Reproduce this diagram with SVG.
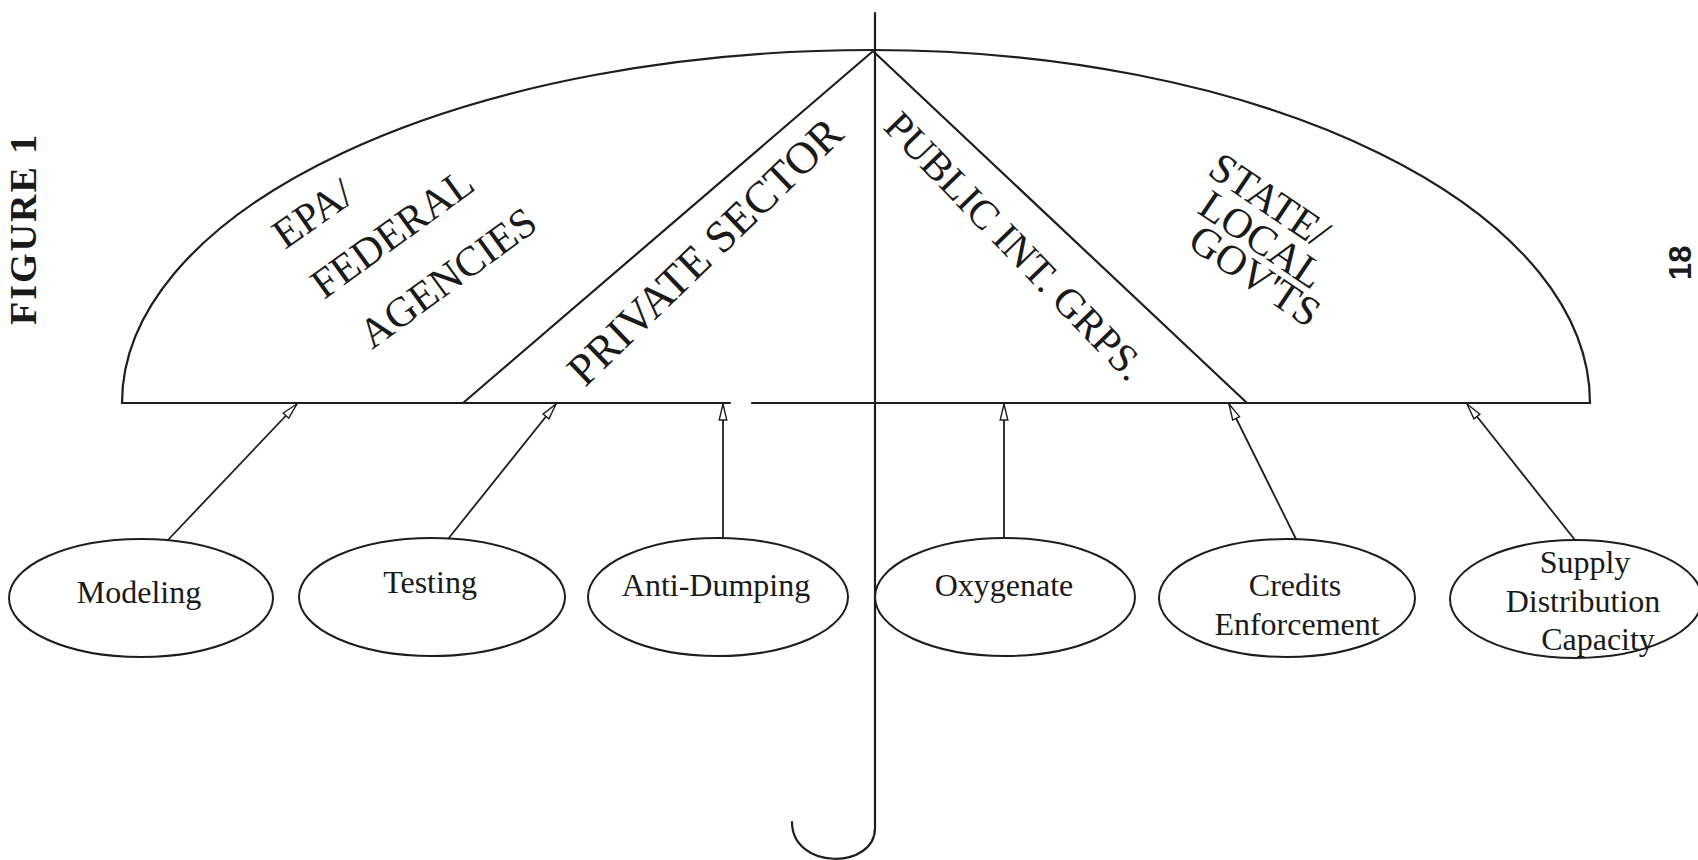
<svg xmlns="http://www.w3.org/2000/svg" width="1698" height="860" viewBox="0 0 1698 860">
<style>
.ln{fill:none;stroke:#1e1e1e;stroke-width:2.2;stroke-linecap:round}
.el{fill:none;stroke:#1e1e1e;stroke-width:2}
.lbl{font-family:"Liberation Serif",serif;font-size:32px;fill:#1a1a1a;text-anchor:middle}
.big{font-family:"Liberation Serif",serif;font-size:42px;fill:#1a1a1a}
.ar{fill:none;stroke:#1e1e1e;stroke-width:1.8}
</style>
<defs>
<marker id="ah" markerUnits="userSpaceOnUse" markerWidth="20" markerHeight="12" viewBox="-1 -6 18 12" refX="16" refY="0" orient="auto">
<path d="M0,-3.8 L16,0 L0,3.8 Z" fill="#fff" stroke="#1e1e1e" stroke-width="1.4"/>
</marker>
</defs>
<rect width="1698" height="860" fill="#fff"/>
<g id="umbrella">
<path class="ln" d="M122,403 A750,353 0 0 1 872,50"/>
<path class="ln" d="M872,50 A718,353 0 0 1 1590,403"/>
<path class="ln" d="M122,403 H730 M752,403 H1590"/>
<path class="ln" d="M872,52 L463,403"/>
<path class="ln" d="M874,52 L1247,403"/>
<path class="ln" d="M875,13 V828 C875,870 792,870 792,822"/>
</g>
<g id="sector-epa">
<text class="big" transform="translate(285,250) rotate(-35)">EPA/</text>
<text class="big" transform="translate(324,300) rotate(-36)">FEDERAL</text>
<text class="big" transform="translate(372,350) rotate(-36)">AGENCIES</text>
</g>
<g id="sector-private">
<text class="big" style="font-size:45px" transform="translate(585,388) rotate(-44)">PRIVATE SECTOR</text>
</g>
<g id="sector-public">
<text class="big" style="font-size:41px" transform="translate(882,128) rotate(46)">PUBLIC INT. GRPS.</text>
</g>
<g id="sector-state">
<text class="big" transform="translate(1206,174) rotate(34)">STATE/</text>
<text class="big" transform="translate(1196,212) rotate(34)">LOCAL</text>
<text class="big" transform="translate(1186,246) rotate(34)">GOV'TS</text>
</g>
<g id="connectors">
<path class="ar" marker-end="url(#ah)" d="M167,541 L297,404"/>
<path class="ar" marker-end="url(#ah)" d="M448,539 L556,404"/>
<path class="ar" marker-end="url(#ah)" d="M723,538 L723,404"/>
<path class="ar" marker-end="url(#ah)" d="M1004,538 L1004,404"/>
<path class="ar" marker-end="url(#ah)" d="M1296,539 L1229,404"/>
<path class="ar" marker-end="url(#ah)" d="M1575,540 L1467,404"/>
</g>
<g id="node-modeling">
<ellipse class="el" cx="141" cy="598" rx="132" ry="59"/>
<text class="lbl" x="139" y="603">Modeling</text>
</g>
<g id="node-testing">
<ellipse class="el" cx="432" cy="597" rx="133" ry="59"/>
<text class="lbl" x="430" y="593">Testing</text>
</g>
<g id="node-antidumping">
<ellipse class="el" cx="718" cy="597" rx="130" ry="59"/>
<text class="lbl" x="716" y="596">Anti-Dumping</text>
</g>
<g id="node-oxygenate">
<ellipse class="el" cx="1005" cy="597" rx="130" ry="59"/>
<text class="lbl" x="1004" y="596">Oxygenate</text>
</g>
<g id="node-credits">
<ellipse class="el" cx="1287" cy="598" rx="128" ry="59"/>
<text class="lbl" x="1295" y="596">Credits</text>
<text class="lbl" x="1297" y="635">Enforcement</text>
</g>
<g id="node-supply">
<ellipse class="el" cx="1576" cy="599" rx="126" ry="59"/>
<text class="lbl" x="1585" y="573">Supply</text>
<text class="lbl" x="1583" y="612">Distribution</text>
<text class="lbl" x="1598" y="650">Capacity</text>
</g>
<g id="page-labels">
<text transform="translate(36,325) rotate(-90)" font-family="'Liberation Serif',serif" font-weight="bold" font-size="38" letter-spacing="2" fill="#1a1a1a">FIGURE 1</text>
<text transform="translate(1691,280) rotate(-90)" font-family="'Liberation Sans',sans-serif" font-weight="bold" font-size="31" fill="#1a1a1a">18</text>
</g>
</svg>
